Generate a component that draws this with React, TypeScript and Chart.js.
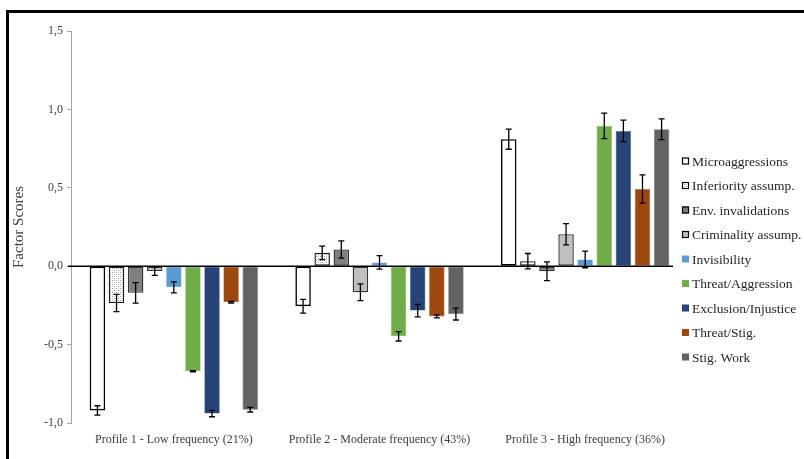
import React, { useEffect, useRef } from "react";
import { Chart, registerables } from "chart.js";

Chart.register(...registerables);

const categories = [
  "Profile 1 - Low frequency (21%)",
  "Profile 2 - Moderate frequency (43%)",
  "Profile 3 - High frequency (36%)",
];

const seriesNames = [
  "Microaggressions",
  "Inferiority assump.",
  "Env. invalidations",
  "Criminality assump.",
  "Invisibility",
  "Threat/Aggression",
  "Exclusion/Injustice",
  "Threat/Stig.",
  "Stig. Work",
];

const microaggressions = [-0.92, -0.255, 0.81];
const inferiority = [-0.235, 0.085, 0.032];
const envInvalidations = [-0.17, 0.107, -0.032];
const criminality = [-0.031, -0.166, 0.204];
const invisibility = [-0.135, 0.024, 0.043];
const threatAggression = [-0.67, -0.447, 0.895];
const exclusionInjustice = [-0.94, -0.283, 0.863];
const threatStig = [-0.23, -0.32, 0.492];
const stigWork = [-0.915, -0.305, 0.873];

const microErr = [0.03, 0.044, 0.064];
const inferiorityErr = [0.055, 0.043, 0.049];
const envErr = [0.065, 0.055, 0.06];
const criminalityErr = [0.027, 0.053, 0.068];
const invisibilityErr = [0.035, 0.043, 0.053];
const threatAggressionErr = [0.004, 0.03, 0.081];
const exclusionErr = [0.02, 0.04, 0.068];
const threatStigErr = [0.005, 0.01, 0.09];
const stigWorkErr = [0.015, 0.038, 0.066];

const yTicks = [-1, -0.5, 0, 0.5, 1, 1.5];

const FONT = "'Liberation Serif', 'Times New Roman', serif";

function makePattern(): CanvasPattern | string {
  const c = document.createElement("canvas");
  c.width = 4;
  c.height = 4;
  const g = c.getContext("2d");
  if (!g) return "#ddd";
  g.fillStyle = "#ffffff";
  g.fillRect(0, 0, 4, 4);
  g.fillStyle = "#9a9a9a";
  g.fillRect(0, 0, 1, 1);
  g.fillRect(2, 2, 1, 1);
  g.fillStyle = "#cfcfcf";
  g.fillRect(2, 0, 1, 1);
  g.fillRect(0, 2, 1, 1);
  const p = g.createPattern(c, "repeat");
  return p || "#ddd";
}

export default function App() {
  const ref = useRef<HTMLCanvasElement>(null);

  useEffect(() => {
    const canvas = ref.current;
    if (!canvas) return;
    const pattern = makePattern();

    const values = [
      microaggressions,
      inferiority,
      envInvalidations,
      criminality,
      invisibility,
      threatAggression,
      exclusionInjustice,
      threatStig,
      stigWork,
    ];
    const errors = [
      microErr,
      inferiorityErr,
      envErr,
      criminalityErr,
      invisibilityErr,
      threatAggressionErr,
      exclusionErr,
      threatStigErr,
      stigWorkErr,
    ];
    const fills: any[] = [
      "#ffffff",
      pattern,
      "#7f7f7f",
      "#bfbfbf",
      "#5b9bd5",
      "#70ad47",
      "#264478",
      "#9e480e",
      "#636363",
    ];
    const borders = [
      "#000000",
      "#1a1a1a",
      "#333333",
      "#333333",
      "#7fb2e0",
      "#8bbd6c",
      "#4a6594",
      "#b86a3a",
      "#7a7a7a",
    ];
    const borderWidths = [1.6, 1.4, 1.4, 1.4, 0.6, 0.6, 0.6, 0.6, 0.6];

    const datasets = seriesNames.map((name, i) => ({
      label: name,
      data: values[i],
      backgroundColor: fills[i],
      borderColor: borders[i],
      borderWidth: borderWidths[i],
      borderSkipped: false as any,
      categoryPercentage: 0.836,
      barPercentage: 0.81,
    }));

    const zeroLine = {
      id: "zeroLine",
      afterDatasetsDraw(chart: any) {
        const { ctx, chartArea, scales } = chart;
        const y = scales.y.getPixelForValue(0);
        ctx.save();
        ctx.strokeStyle = "#000000";
        ctx.lineWidth = 1.5;
        ctx.beginPath();
        ctx.moveTo(chartArea.left - 3, y);
        ctx.lineTo(chartArea.right - 15, y);
        ctx.stroke();
        ctx.restore();
      },
    };

    const errorBars = {
      id: "errorBars",
      afterDatasetsDraw(chart: any) {
        const { ctx, scales } = chart;
        ctx.save();
        ctx.strokeStyle = "#000000";
        ctx.lineWidth = 1.3;
        chart.data.datasets.forEach((ds: any, di: number) => {
          const meta = chart.getDatasetMeta(di);
          meta.data.forEach((el: any, j: number) => {
            const v = ds.data[j];
            const e = errors[di][j];
            const x = el.x;
            const yT = scales.y.getPixelForValue(v + e);
            const yB = scales.y.getPixelForValue(v - e);
            const cap = 3;
            ctx.beginPath();
            ctx.moveTo(x, yT);
            ctx.lineTo(x, yB);
            ctx.moveTo(x - cap, yT);
            ctx.lineTo(x + cap, yT);
            ctx.moveTo(x - cap, yB);
            ctx.lineTo(x + cap, yB);
            ctx.stroke();
          });
        });
        ctx.restore();
      },
    };

    const customLegend = {
      id: "customLegend",
      afterDraw(chart: any) {
        const { ctx } = chart;
        ctx.save();
        ctx.font = `13.5px ${FONT}`;
        ctx.textBaseline = "middle";
        ctx.textAlign = "left";
        chart.data.datasets.forEach((ds: any, i: number) => {
          const cy = 161 + i * 24.5;
          const bx = 682;
          const size = 7;
          ctx.fillStyle = ds.backgroundColor;
          ctx.fillRect(bx, cy - size / 2, size, size);
          if (i < 4) {
            ctx.strokeStyle = "#000000";
            ctx.lineWidth = 1.2;
            ctx.strokeRect(bx + 0.5, cy - size / 2 + 0.5, size - 1, size - 1);
          }
          ctx.fillStyle = "#262626";
          ctx.fillText(ds.label, 692, cy + 1);
        });
        ctx.restore();
      },
    };

    const chart = new Chart(canvas, {
      type: "bar",
      data: { labels: categories, datasets },
      options: {
        animation: false,
        responsive: false,
        devicePixelRatio: 1,
        layout: { padding: { top: 31, right: 116, bottom: 0, left: 0 } },
        plugins: {
          legend: { display: false },
          tooltip: { enabled: false },
        },
        scales: {
          x: {
            grid: { display: false, drawTicks: false },
            border: { display: false },
            ticks: {
              color: "#404040",
              font: { family: FONT, size: 12 },
              padding: 10,
              maxRotation: 0,
              autoSkip: false,
            },
            afterFit(scale: any) {
              scale.height = 36;
            },
          },
          y: {
            min: -1,
            max: 1.5,
            afterBuildTicks(scale: any) {
              scale.ticks = yTicks.map((v) => ({ value: v }));
            },
            grid: {
              drawOnChartArea: false,
              drawTicks: true,
              tickLength: 4,
              color: "#a6a6a6",
            },
            border: { display: true, color: "#a6a6a6", width: 1 },
            ticks: {
              color: "#404040",
              font: { family: FONT, size: 12 },
              padding: 4,
              callback: (v: any) => Number(v).toFixed(1).replace(".", ","),
            },
            title: {
              display: true,
              text: "Factor Scores",
              color: "#404040",
              font: { family: FONT, size: 15 },
              padding: { top: 10, bottom: 0 },
            },
            afterFit(scale: any) {
              scale.width = 71;
            },
          },
        },
      },
      plugins: [zeroLine, errorBars, customLegend],
    });

    return () => chart.destroy();
  }, []);

  return (
    <div style={{ position: "fixed", left: 0, top: 0, width: 804, height: 459, background: "#ffffff", overflow: "hidden" }}>
      <div
        style={{
          position: "absolute",
          left: 6,
          top: 10,
          width: 798,
          height: 449,
          boxSizing: "border-box",
          borderTop: "3px solid #000",
          borderLeft: "3px solid #000",
        }}
      />
      <canvas ref={ref} width={804} height={459} style={{ position: "absolute", left: 0, top: 0, width: 804, height: 459 }} />
    </div>
  );
}
